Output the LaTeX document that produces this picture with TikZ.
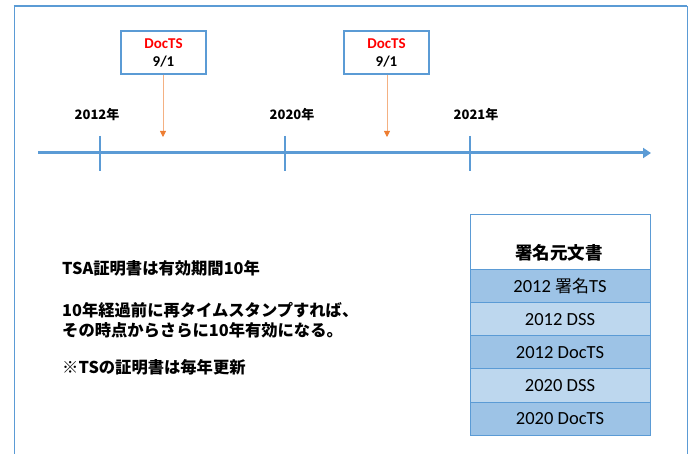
\documentclass[tikz,border=0pt]{standalone}
\usepackage{fontspec}
\setmainfont{Carlito}
\newfontfamily\cjk{Noto Sans CJK JP}
\usetikzlibrary{arrows.meta}
\definecolor{frameblue}{HTML}{5B9BD5}
\definecolor{darkrow}{HTML}{9DC3E6}
\definecolor{lightrow}{HTML}{BDD7EE}
\definecolor{orangeline}{HTML}{ED7D31}
\definecolor{orangelight}{HTML}{F4B183}
\tikzset{
  tsbox/.style={draw=frameblue, line width=1.3pt, fill=white, minimum width=85pt, minimum height=43pt, inner sep=0pt, align=center, font=\bfseries\fontsize{15}{18}\selectfont},
  tick/.style={frameblue, line width=2.5pt},
  ptr/.style={orangelight, line width=0.8pt, -{Triangle[length=6pt,width=6pt,color=orangeline]}},
  yearlbl/.style={font=\cjk\bfseries\fontsize{13}{15}\selectfont, inner sep=0pt},
  rowbox/.style={draw=frameblue, line width=1pt, minimum width=180pt, minimum height=33pt, inner sep=0pt, font=\fontsize{18.5}{22}\selectfont},
  note/.style={font=\cjk\bfseries\fontsize{16.3}{20}\selectfont, anchor=west, inner sep=0pt, align=left},
}
\begin{document}
\begin{tikzpicture}[x=1pt,y=-1pt]
\useasboundingbox (0,0) rectangle (691,454);
% frame
\draw[frameblue, line width=0.8pt] (14,6) -- (14,460);
\draw[frameblue, line width=0.8pt] (687,6) -- (687,460);
\draw[frameblue, line width=2pt] (13.6,6) -- (687.4,6);
% axis
\coordinate (axs) at (38,153);
\coordinate (axe) at (651,153);
\draw[frameblue, line width=3pt, -{Triangle[length=8pt,width=10pt]}] (axs) -- (axe);
\coordinate (t1a) at (100,136); \coordinate (t1b) at (100,171);
\coordinate (t2a) at (285,136); \coordinate (t2b) at (285,171);
\coordinate (t3a) at (470,136); \coordinate (t3b) at (470,171);
\draw[tick] (t1a) -- (t1b);
\draw[tick] (t2a) -- (t2b);
\draw[tick] (t3a) -- (t3b);
% year labels
\node[yearlbl] (y1) at (97,115) {2012年};
\node[yearlbl] (y2) at (292,115) {2020年};
\node[yearlbl] (y3) at (476,115) {2021年};
% DocTS boxes
\node[tsbox] (b1) at (163.5,52.5) {\textcolor{red}{DocTS}\\[0pt]9/1};
\node[tsbox] (b2) at (386.5,52.5) {\textcolor{red}{DocTS}\\[0pt]9/1};
\coordinate (p1) at (163,137);
\coordinate (p2) at (387,137);
\draw[ptr] (b1.south -| p1) -- (p1);
\draw[ptr] (b2.south -| p2) -- (p2);
% notes
\node[note] (n1) at (62,268) {TSA証明書は有効期間10年};
\node[note] (n2) at (62,310) {10年経過前に再タイムスタンプすれば、};
\node[note] (n3) at (62,330) {その時点からさらに10年有効になる。};
\node[note] (n4) at (62,367) {※TSの証明書は毎年更新};
% table
\node[draw=frameblue, line width=1pt, fill=white, minimum width=180pt, minimum height=55pt, inner sep=0pt] (hd) at (560,242.5) {};
\node[font=\cjk\bfseries\fontsize{17.5}{20}\selectfont, inner sep=0pt] (hdt) at (559,253) {署名元文書};
\node[rowbox, fill=darkrow] (r1) at (560,286.5) {2012 {\cjk\fontsize{17}{20}\selectfont 署名}TS};
\node[rowbox, fill=lightrow] (r2) at (560,319.5) {2012 DSS};
\node[rowbox, fill=darkrow] (r3) at (560,352.5) {2012 DocTS};
\node[rowbox, fill=lightrow] (r4) at (560,385.5) {2020 DSS};
\node[rowbox, fill=darkrow] (r5) at (560,418.5) {2020 DocTS};
\end{tikzpicture}
\end{document}
